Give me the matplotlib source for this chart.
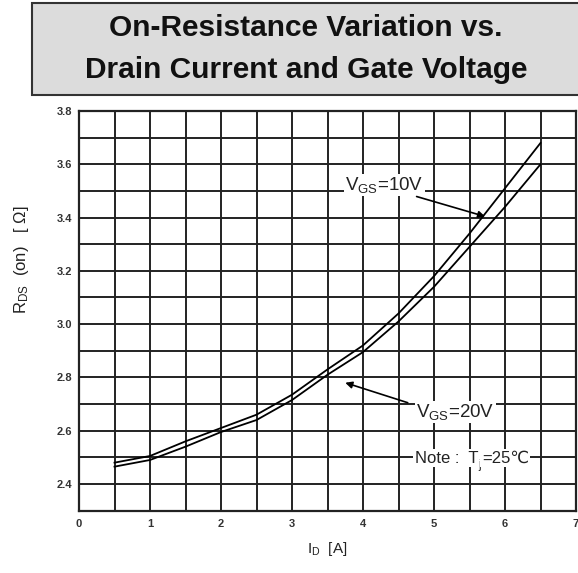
import matplotlib
matplotlib.use("Agg")
import matplotlib.pyplot as plt
from matplotlib.patches import Rectangle

plt.rcParams['font.family'] = ['Liberation Sans', 'DejaVu Sans']
plt.rcParams['mathtext.fontset'] = 'custom'
plt.rcParams['mathtext.rm'] = 'Liberation Sans'
plt.rcParams['mathtext.it'] = 'Liberation Sans'
plt.rcParams['mathtext.bf'] = 'Liberation Sans:bold'

# Data
drain_current = [0.5, 1.0, 1.5, 2.0, 2.5, 3.0, 3.5, 4.0, 4.5, 5.0, 5.5, 6.0, 6.5]
rds_vgs10 = [2.48, 2.505, 2.56, 2.61, 2.66, 2.735, 2.83, 2.92, 3.04, 3.18, 3.34, 3.51, 3.68]
rds_vgs20 = [2.465, 2.49, 2.54, 2.595, 2.64, 2.715, 2.81, 2.895, 3.01, 3.14, 3.29, 3.44, 3.60]
x_ticks = [0, 1, 2, 3, 4, 5, 6, 7]
y_ticks = [2.4, 2.6, 2.8, 3.0, 3.2, 3.4, 3.6, 3.8]
title_lines = ["On-Resistance Variation vs.", "Drain Current and Gate Voltage"]

fig = plt.figure(figsize=(5.78, 5.73), dpi=100)

# Title box
fig.patches.append(Rectangle((32 / 578, 1 - 95 / 573), 1.2, 92 / 573,
                             transform=fig.transFigure, facecolor='#dcdcdc',
                             edgecolor='#333333', linewidth=1.5, zorder=0))
fig.text(306 / 578, 1 - 28 / 573, title_lines[0], ha='center', va='center',
         fontsize=21.5, fontweight='bold', color='#111111')
fig.text(306 / 578, 1 - 70 / 573, title_lines[1], ha='center', va='center',
         fontsize=21.5, fontweight='bold', color='#111111')

ax = fig.add_axes([79 / 578, 62.4 / 573, 497 / 578, 399.6 / 573])
ax.plot(drain_current, rds_vgs10, color='black', linewidth=1.3, zorder=3)
ax.plot(drain_current, rds_vgs20, color='black', linewidth=1.3, zorder=3)

ax.set_xlim(0, 7)
ax.set_ylim(2.3, 3.8)
ax.set_xticks(x_ticks)
ax.set_yticks(y_ticks)
ax.set_xticks([v + 0.5 for v in x_ticks[:-1]], minor=True)
ax.set_yticks([2.3, 2.5, 2.7, 2.9, 3.1, 3.3, 3.5, 3.7], minor=True)
ax.set_xticklabels([str(v) for v in x_ticks], fontsize=8, fontweight='bold', color='#333333')
ax.set_yticklabels([f"{v:.1f}" for v in y_ticks], fontsize=8, fontweight='bold', color='#333333')
ax.grid(True, which='both', color='#222222', linewidth=1.4)
ax.tick_params(which='both', length=0)
ax.tick_params(axis='y', pad=5)
ax.tick_params(axis='x', pad=6)
for s in ax.spines.values():
    s.set_color('#222222')
    s.set_linewidth(1.6)

ax.set_xlabel(r'I$_\mathregular{D}$  [A]', fontsize=11, color='#222222', labelpad=8)
ax.set_ylabel(r'R$_\mathregular{DS}$  (on)   [ Ω]', fontsize=12, color='#222222')
ax.yaxis.set_label_coords(-0.097, 0.627)

bbox_white = dict(facecolor='white', edgecolor='none', pad=1)
arrow_kw = dict(arrowstyle='-|>', color='black', lw=1.2, shrinkA=0, shrinkB=0,
                mutation_scale=10)

# V_GS = 10V label and arrow
ax.text(3.75, 3.504, r'V$_\mathregular{GS}$=10V', fontsize=13.5, color='#222222',
        ha='left', va='baseline', bbox=bbox_white, zorder=4)
ax.annotate('', xy=(5.72, 3.404), xytext=(4.755, 3.479), arrowprops=arrow_kw, zorder=5)

# V_GS = 20V label and arrow
ax.text(4.75, 2.652, r'V$_\mathregular{GS}$=20V', fontsize=13.5, color='#222222',
        ha='left', va='baseline', bbox=bbox_white, zorder=4)
ax.annotate('', xy=(3.75, 2.78), xytext=(4.63, 2.705), arrowprops=arrow_kw, zorder=5)

# Note text
t1 = ax.text(4.73, 2.48, 'Note :  T', fontsize=12, color='#222222',
             ha='left', va='baseline', bbox=bbox_white, zorder=4)
t2 = ax.annotate('j', xy=(1, 0), xycoords=t1, xytext=(0.3, -3.5),
                 textcoords='offset points', fontsize=8.5, color='#222222',
                 ha='left', va='bottom', bbox=bbox_white, zorder=4)
ax.annotate('=25℃', xy=(1, 0), xycoords=(t2, t1), xytext=(0.3, 0),
            textcoords='offset points', fontsize=12, color='#222222',
            ha='left', va='bottom', bbox=bbox_white, zorder=4)

fig.savefig('out.png', dpi=100)
